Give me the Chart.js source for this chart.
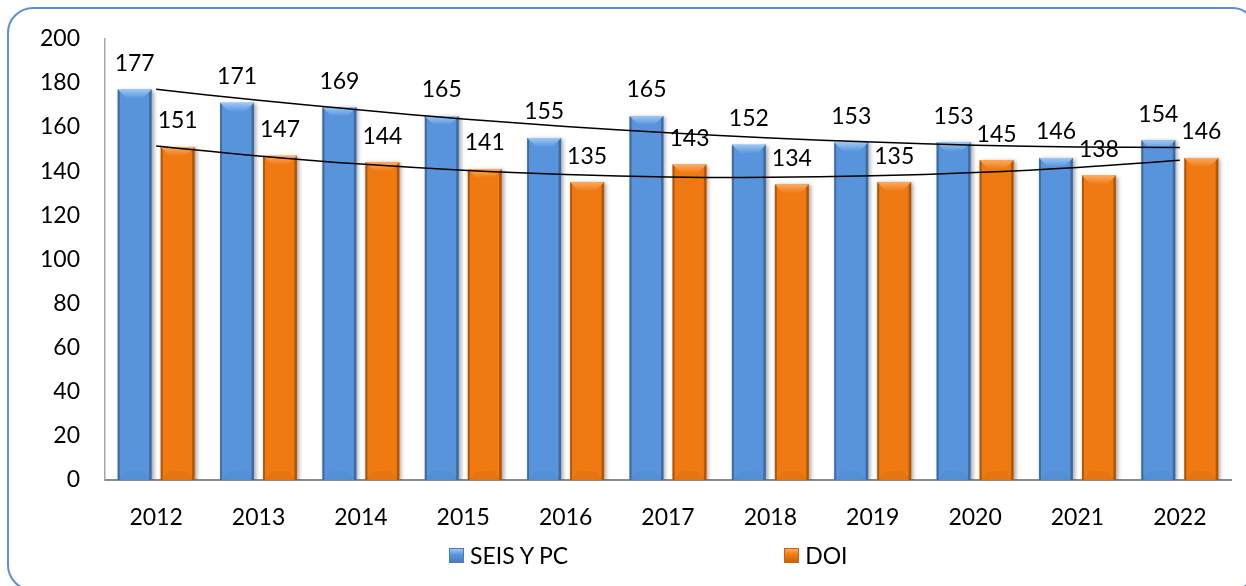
<!DOCTYPE html>
<html>
<head>
<meta charset="utf-8">
<script src="https://cdn.jsdelivr.net/npm/chart.js@4.4.1/dist/chart.umd.min.js"></script>
<style>
      html, body { margin: 0; padding: 0; background: #fff; }
      #wrap { position: relative; width: 1246px; height: 586px; overflow: hidden; }
      #frame {
            position: absolute; left: 7px; top: 7px; width: 1251px; height: 584px;
            border: 2px solid #5b8fd6; border-radius: 26px; box-sizing: border-box;
      }
      #chart { position: absolute; left: 0; top: 0; }
      #legend {
            position: absolute; left: 449px; top: 541px; display: flex; align-items: center;
            font-family: Lato, "Noto Sans", sans-serif; font-size: 23px; color: #000;
      }
      .legend-item { display: flex; align-items: center; margin-right: 216px; }
      .legend-item:last-child { margin-right: 0; }
      .legend-box { width: 15px; height: 15px; margin-right: 6px; box-sizing: border-box; }
</style>
</head>
<body>
<div id="wrap">
      <div id="frame"></div>
      <canvas id="chart" width="1246" height="586"></canvas>
      <div id="legend"></div>
</div>
<script>
// --- Data ---
const years = ['2012', '2013', '2014', '2015', '2016', '2017', '2018', '2019', '2020', '2021', '2022'];
const seisValues = [177, 171, 169, 165, 155, 165, 152, 153, 153, 146, 154];
const doiValues = [151, 147, 144, 141, 135, 143, 134, 135, 145, 138, 146];
// trend lines (Excel polynomial trendlines)
const seisTrend = [177.1, 172.1, 167.7, 163.7, 160.3, 157.4, 155.0, 153.2, 151.8, 151.0, 150.7];
const doiTrend = [151.4, 146.9, 143.2, 140.4, 138.5, 137.4, 137.2, 137.9, 139.4, 141.7, 145.0];
const yTicks = [0, 20, 40, 60, 80, 100, 120, 140, 160, 180, 200];

const seriesNames = ['SEIS Y PC', 'DOI'];
const seriesColors = ['#5894dc', '#f07912'];
const edgeColors = ['#4a7cbd', '#cc630b'];
const bevelColors = ['#9cc8f4', '#fbab62'];

const FONT = 'Lato, "Noto Sans", sans-serif';

// --- Bevel / shadow look for bars ---
const bevelPlugin = {
      id: 'bevel',
      beforeDatasetDraw(chart, args) {
            const ds = chart.data.datasets[args.index];
            if (ds.type !== 'bar') return;
            const ctx = chart.ctx;
            ctx.save();
            ctx.shadowColor = 'rgba(0,0,0,0.35)';
            ctx.shadowBlur = 4;
            ctx.shadowOffsetX = 2;
            ctx.shadowOffsetY = 1;
      },
      afterDatasetDraw(chart, args) {
            const ds = chart.data.datasets[args.index];
            if (ds.type !== 'bar') return;
            const ctx = chart.ctx;
            ctx.restore();
            const s = ds.seriesIndex;
            args.meta.data.forEach(bar => {
                  const l = bar.x - bar.width / 2;
                  const r = bar.x + bar.width / 2;
                  const t = bar.y;
                  const b = bar.base;
                  ctx.save();
                  // dark side edges
                  const side = ctx.createLinearGradient(l, 0, r, 0);
                  side.addColorStop(0, edgeColors[s]);
                  side.addColorStop(0.07, 'rgba(0,0,0,0)');
                  side.addColorStop(0.91, 'rgba(0,0,0,0)');
                  side.addColorStop(1, edgeColors[s]);
                  ctx.fillStyle = side;
                  ctx.fillRect(l, t, r - l, b - t);
                  // top bevel
                  const h = 9, inset = 9;
                  const g = ctx.createLinearGradient(0, t, 0, t + h);
                  g.addColorStop(0, bevelColors[s]);
                  g.addColorStop(1, seriesColors[s]);
                  ctx.fillStyle = g;
                  ctx.beginPath();
                  ctx.moveTo(l, t);
                  ctx.lineTo(r, t);
                  ctx.lineTo(r - inset, t + h);
                  ctx.lineTo(l + inset, t + h);
                  ctx.closePath();
                  ctx.fill();
                  // bottom bevel, very faint
                  ctx.fillStyle = 'rgba(0,0,0,0.04)';
                  ctx.beginPath();
                  ctx.moveTo(l, b);
                  ctx.lineTo(r, b);
                  ctx.lineTo(r - inset, b - h);
                  ctx.lineTo(l + inset, b - h);
                  ctx.closePath();
                  ctx.fill();
                  ctx.restore();
            });
      }
};

// --- Value labels above bars ---
const valueLabels = {
      id: 'valueLabels',
      afterDatasetsDraw(chart) {
            const ctx = chart.ctx;
            ctx.save();
            ctx.font = '23px ' + FONT;
            ctx.fillStyle = '#000';
            ctx.textAlign = 'center';
            ctx.textBaseline = 'middle';
            chart.data.datasets.forEach((ds, i) => {
                  if (ds.type !== 'bar') return;
                  chart.getDatasetMeta(i).data.forEach((bar, j) => {
                        ctx.fillText(String(ds.data[j]), bar.x, bar.y - 26);
                  });
            });
            ctx.restore();
      }
};

new Chart(document.getElementById('chart'), {
      data: {
            labels: years,
            datasets: [
                  {
                        type: 'line', data: seisTrend, borderColor: '#000', borderWidth: 1.5,
                        pointRadius: 0, tension: 0.4, fill: false, order: 0
                  },
                  {
                        type: 'line', data: doiTrend, borderColor: '#000', borderWidth: 1.5,
                        pointRadius: 0, tension: 0.4, fill: false, order: 0
                  },
                  {
                        type: 'bar', label: seriesNames[0], data: seisValues, seriesIndex: 0,
                        backgroundColor: seriesColors[0], borderWidth: 0,
                        categoryPercentage: 0.84, barPercentage: 0.79, order: 1
                  },
                  {
                        type: 'bar', label: seriesNames[1], data: doiValues, seriesIndex: 1,
                        backgroundColor: seriesColors[1], borderWidth: 0,
                        categoryPercentage: 0.84, barPercentage: 0.79, order: 1
                  }
            ]
      },
      options: {
            responsive: false,
            animation: false,
            layout: { padding: { left: 10, right: 15, top: 37, bottom: 46 } },
            scales: {
                  x: {
                        grid: { display: false, drawTicks: false },
                        border: { display: true, color: '#8c8c8c', width: 2 },
                        ticks: { padding: 24, color: '#000', font: { family: FONT, size: 23 } },
                        afterFit(scale) { scale.height = 60; }
                  },
                  y: {
                        min: 0, max: 200,
                        afterBuildTicks(scale) { scale.ticks = yTicks.map(v => ({ value: v })); },
                        grid: { display: false, drawTicks: false },
                        border: { display: true, color: '#a6a6a6', width: 1.5 },
                        ticks: { padding: 25, color: '#000', font: { family: FONT, size: 23 } },
                        afterFit(scale) { scale.width = 95; }
                  }
            },
            plugins: {
                  legend: { display: false },
                  tooltip: { enabled: false }
            }
      },
      plugins: [bevelPlugin, valueLabels]
});

// --- HTML legend ---
const legend = document.getElementById('legend');
seriesNames.forEach((name, i) => {
      const item = document.createElement('div');
      item.className = 'legend-item';
      const box = document.createElement('div');
      box.className = 'legend-box';
      box.style.background = `linear-gradient(180deg, ${bevelColors[i]} 0%, ${seriesColors[i]} 45%, ${edgeColors[i]} 100%)`;
      box.style.border = `1px solid ${edgeColors[i]}`;
      const txt = document.createElement('span');
      txt.textContent = name;
      item.appendChild(box);
      item.appendChild(txt);
      legend.appendChild(item);
});
</script>
</body>
</html>
